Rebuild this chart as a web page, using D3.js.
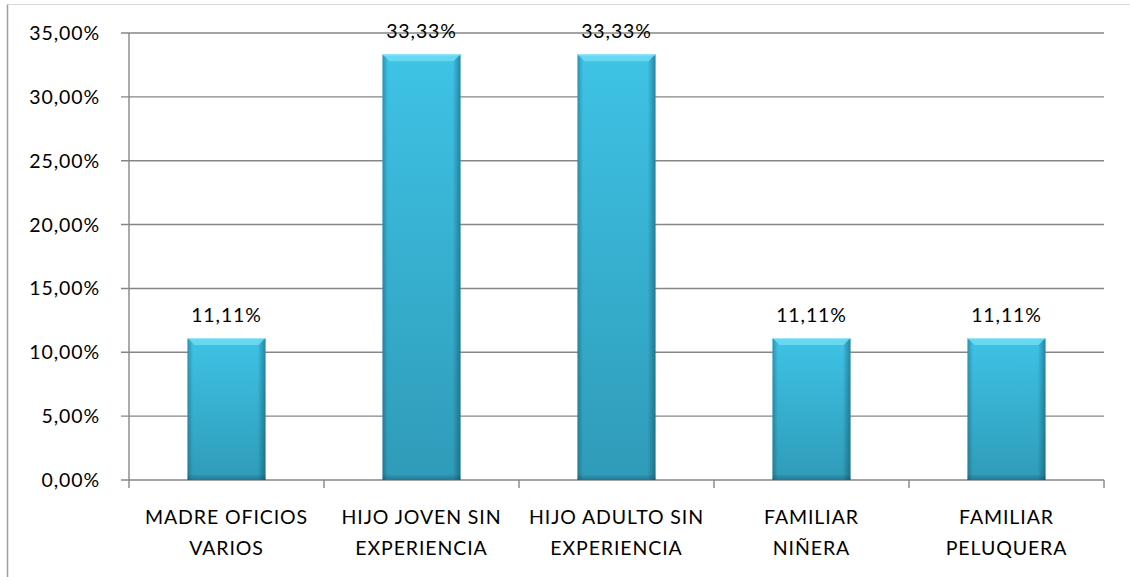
<!DOCTYPE html>
<html><head><meta charset="utf-8">
<script src="https://cdn.jsdelivr.net/npm/d3@7"></script>
<style>html,body{margin:0;padding:0;background:#fff;}svg{display:block;}</style>
</head><body>
<svg id="chart" width="1130" height="577"></svg>
<script>
const categories = [["MADRE OFICIOS","VARIOS"],["HIJO JOVEN SIN","EXPERIENCIA"],["HIJO ADULTO SIN","EXPERIENCIA"],["FAMILIAR","NIÑERA"],["FAMILIAR","PELUQUERA"]];
const values = [11.11, 33.33, 33.33, 11.11, 11.11];
const valueLabels = ["11,11%","33,33%","33,33%","11,11%","11,11%"];
const yTicks = [0,5,10,15,20,25,30,35];
const yTickLabels = ["0,00%","5,00%","10,00%","15,00%","20,00%","25,00%","30,00%","35,00%"];

const svg = d3.select("#chart");
const font = "Lato, 'Open Sans', sans-serif";
const fs = 19.5, ls = 0.9;
const L = 129, R = 1104, T = 33, B = 480;

// outer border
svg.append("line").attr("x1",7.5).attr("x2",1130).attr("y1",4.5).attr("y2",4.5).attr("stroke","#d9d9d9").attr("stroke-width",1);
svg.append("line").attr("x1",7.5).attr("x2",7.5).attr("y1",4.5).attr("y2",577).attr("stroke","#a0a0a0").attr("stroke-width",1.5);

const x = d3.scaleBand().domain(d3.range(categories.length)).range([L,R]).paddingInner(0.6).paddingOuter(0.3);
const xb = d3.scaleLinear().domain([0,categories.length]).range([L,R]);
const y = d3.scaleLinear().domain([0,35]).range([B,T]);

const defs = svg.append("defs");
const gV = defs.append("linearGradient").attr("id","gv").attr("x1",0).attr("x2",0).attr("y1",0).attr("y2",1);
gV.append("stop").attr("offset","0%").attr("stop-color","#3ec3e6");
gV.append("stop").attr("offset","100%").attr("stop-color","#2f9bb8");
const gH = defs.append("linearGradient").attr("id","gh").attr("x1",0).attr("x2",1).attr("y1",0).attr("y2",0);
gH.append("stop").attr("offset","0%").attr("stop-color","#0a3a4a").attr("stop-opacity",0.35);
gH.append("stop").attr("offset","7%").attr("stop-color","#0a3a4a").attr("stop-opacity",0.0);
gH.append("stop").attr("offset","90%").attr("stop-color","#0a3a4a").attr("stop-opacity",0.0);
gH.append("stop").attr("offset","100%").attr("stop-color","#0a3a4a").attr("stop-opacity",0.45);
const gB = defs.append("linearGradient").attr("id","gb").attr("x1",0).attr("x2",0).attr("y1",0).attr("y2",1);
gB.append("stop").attr("offset","0%").attr("stop-color","#0a3a4a").attr("stop-opacity",0);
gB.append("stop").attr("offset","100%").attr("stop-color","#0a3a4a").attr("stop-opacity",0.35);

// gridlines
svg.append("g").selectAll("line").data(yTicks).join("line")
  .attr("x1",L-8).attr("x2",R).attr("y1",d=>y(d)).attr("y2",d=>y(d))
  .attr("stroke","#868686").attr("stroke-width",1.4);
// y axis line
svg.append("line").attr("x1",L).attr("x2",L).attr("y1",T).attr("y2",B).attr("stroke","#868686").attr("stroke-width",1.4);
// y tick labels
svg.append("g").selectAll("text").data(yTicks).join("text")
  .attr("x",L-29).attr("y",d=>y(d)).attr("dy","0.36em").attr("text-anchor","end")
  .attr("font-family",font).attr("font-size",fs).attr("letter-spacing",ls).attr("fill","#000")
  .text((d,i)=>yTickLabels[i]);
// x ticks
svg.append("g").selectAll("line").data(d3.range(categories.length+1)).join("line")
  .attr("x1",d=>xb(d)).attr("x2",d=>xb(d)).attr("y1",B).attr("y2",B+8)
  .attr("stroke","#868686").attr("stroke-width",1.4);

// bars
const bars = svg.append("g").selectAll("g").data(values).join("g");
bars.append("rect").attr("x",(d,i)=>x(i)).attr("y",d=>y(d)).attr("width",x.bandwidth()).attr("height",d=>B-y(d)).attr("fill","url(#gv)");
bars.append("rect").attr("x",(d,i)=>x(i)).attr("y",d=>y(d)).attr("width",x.bandwidth()).attr("height",d=>B-y(d)).attr("fill","url(#gh)");
bars.append("rect").attr("x",(d,i)=>x(i)).attr("y",d=>B-6).attr("width",x.bandwidth()).attr("height",6).attr("fill","url(#gb)");
// top bevel
bars.append("path").attr("d",(d,i)=>{
  const x0=x(i), x1=x(i)+x.bandwidth(), y0=y(d), b=7;
  return `M${x0},${y0}L${x1},${y0}L${x1-b},${y0+b}L${x0+b},${y0+b}Z`;
}).attr("fill","#6fdcf5").attr("opacity",0.85);
bars.append("line").attr("x1",(d,i)=>x(i)).attr("x2",(d,i)=>x(i)+x.bandwidth()).attr("y1",d=>y(d)+0.5).attr("y2",d=>y(d)+0.5).attr("stroke","#9fe9fa").attr("stroke-width",1);

// value labels
svg.append("g").selectAll("text").data(values).join("text")
  .attr("x",(d,i)=>x(i)+x.bandwidth()/2).attr("y",d=>y(d)-16)
  .attr("text-anchor","middle").attr("font-family",font).attr("font-size",fs).attr("letter-spacing",ls).attr("fill","#000")
  .text((d,i)=>valueLabels[i]);

// category labels
const cl = svg.append("g").selectAll("text").data(categories).join("text")
  .attr("x",(d,i)=>xb(i+0.5)).attr("y",524).attr("text-anchor","middle")
  .attr("font-family",font).attr("font-size",fs).attr("letter-spacing",ls).attr("fill","#000");
cl.selectAll("tspan").data(d=>d).join("tspan")
  .attr("x",function(){return d3.select(this.parentNode).attr("x");})
  .attr("dy",(d,j)=>j===0?0:30.5).text(d=>d);
</script>
</body></html>
